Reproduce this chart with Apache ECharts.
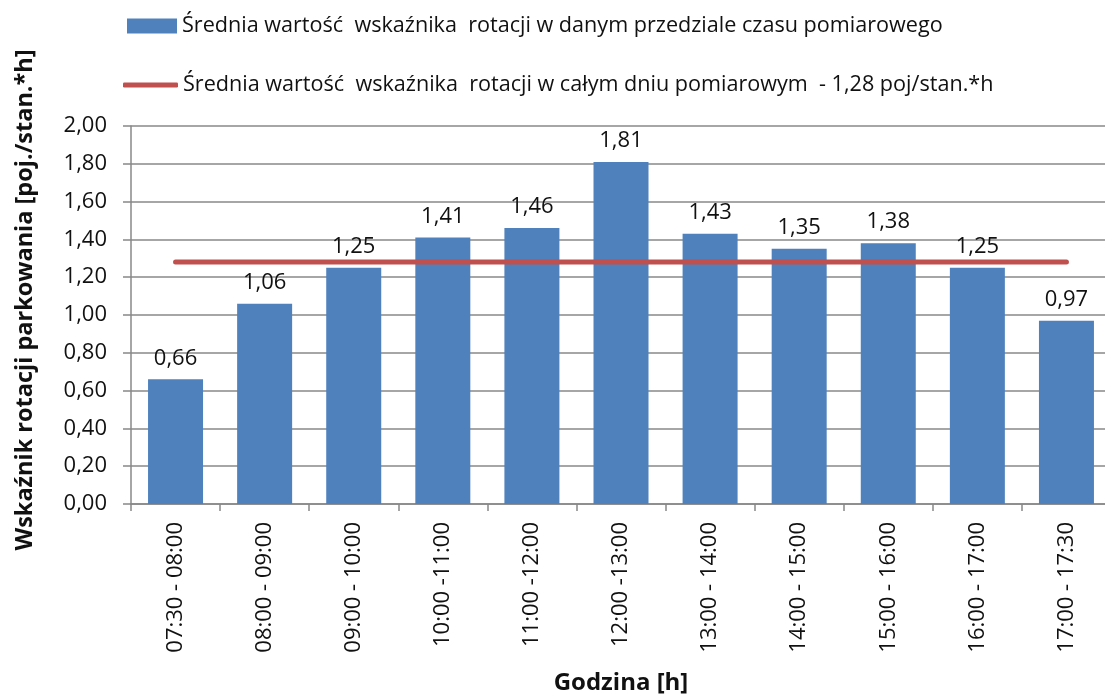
<!DOCTYPE html>
<html>
<head>
<meta charset="utf-8">
<script src="https://cdn.jsdelivr.net/npm/echarts@6/dist/echarts.min.js"></script>
<style>
  html, body { margin: 0; padding: 0; background: #fff; }
  #main { width: 1105px; height: 697px; }
</style>
</head>
<body>
<div id="main"></div>
<script>
// dane
var categories = ["07:30 - 08:00", "08:00 - 09:00", "09:00 - 10:00", "10:00 -11:00", "11:00 -12:00",
  "12:00 -13:00", "13:00 - 14:00", "14:00 - 15:00", "15:00 - 16:00", "16:00 - 17:00", "17:00 - 17:30"];
var rotationValues = [0.66, 1.06, 1.25, 1.41, 1.46, 1.81, 1.43, 1.35, 1.38, 1.25, 0.97];
var dailyAverage = 1.28;
var yTicks = [0, 0.2, 0.4, 0.6, 0.8, 1.0, 1.2, 1.4, 1.6, 1.8, 2.0];

var barName = "Średnia wartość  wskaźnika  rotacji w danym przedziale czasu pomiarowego";
var lineName = "Średnia wartość  wskaźnika  rotacji w całym dniu pomiarowym  - 1,28 poj/stan.*h";

var FONT = "Open Sans";
var TXT = "#111";
var fmt = function (v) { return Number(v).toFixed(2).replace(".", ","); };

var myChart = echarts.init(document.getElementById("main"));

var legendText = { fontFamily: FONT, fontSize: 21.6, color: TXT };

var option = {
  animation: false,
  textStyle: { fontFamily: FONT },
  legend: [
    {
      left: 127,
      top: 15,
      padding: 0,
      itemWidth: 50,
      itemHeight: 15,
      textStyle: legendText,
      data: [{ name: barName, icon: "rect" }]
    },
    {
      left: 123,
      top: 74,
      padding: 0,
      itemWidth: 55,
      itemHeight: 5,
      textStyle: legendText,
      data: [{ name: lineName, icon: "roundRect" }]
    }
  ],
  grid: {
    left: 131,
    top: 126,
    width: 980,
    bottom: 193,
    outerBoundsMode: "none"
  },
  xAxis: {
    type: "category",
    data: categories,
    boundaryGap: true,
    name: "Godzina [h]",
    nameLocation: "middle",
    nameGap: 167,
    nameTextStyle: { fontFamily: FONT, fontSize: 24, fontWeight: "bold", color: TXT },
    axisLine: { lineStyle: { color: "#888", width: 1.5 } },
    axisTick: { show: true, length: 7, lineStyle: { color: "#888", width: 1.5 } },
    axisLabel: { rotate: 90, margin: 18, fontSize: 22, color: TXT, fontFamily: FONT }
  },
  yAxis: {
    type: "value",
    min: yTicks[0],
    max: yTicks[yTicks.length - 1],
    interval: 0.2,
    axisLine: { show: true, lineStyle: { color: "#888", width: 1.5 } },
    axisTick: { show: true, length: 8, lineStyle: { color: "#888", width: 1.5 } },
    splitLine: { lineStyle: { color: "#888", width: 1.5 } },
    axisLabel: {
      margin: 24,
      fontSize: 22,
      color: TXT,
      fontFamily: FONT,
      formatter: function (v) { return fmt(v); }
    }
  },
  graphic: [{
    type: "text",
    x: 25,
    y: 300,
    rotation: Math.PI / 2,
    style: {
      text: "Wskaźnik rotacji parkowania [poj./stan.*h]",
      font: "bold 23.5px '" + FONT + "'",
      fill: TXT,
      align: "center",
      verticalAlign: "middle"
    }
  }],
  series: [
    {
      name: barName,
      type: "bar",
      barWidth: 55,
      itemStyle: { color: "#4F81BD" },
      label: {
        show: true,
        position: "top",
        distance: 10,
        fontSize: 22,
        color: TXT,
        fontFamily: FONT,
        formatter: function (p) { return fmt(p.value); }
      },
      data: rotationValues
    },
    {
      name: lineName,
      type: "line",
      symbol: "none",
      lineStyle: { color: "#C0504D", width: 5, cap: "round" },
      itemStyle: { color: "#C0504D" },
      data: categories.map(function () { return dailyAverage; })
    }
  ]
};
myChart.setOption(option);
</script>
</body>
</html>
